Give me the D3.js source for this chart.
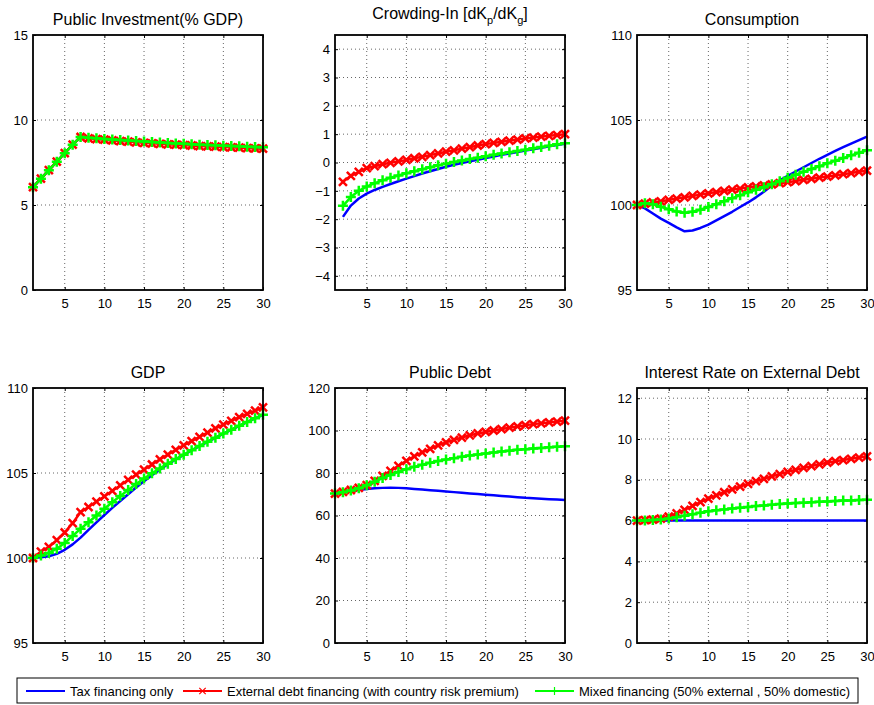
<!DOCTYPE html>
<html lang="en">
<head>
<meta charset="UTF-8">
<title>Public investment financing scenarios</title>
<script src="https://d3js.org/d3.v7.min.js"></script>
<style>
    body { margin: 0; background: #fff; }
    svg { display: block; font-family: 'Liberation Sans', Arial, sans-serif; }
    .tick-label { font-size: 13px; fill: #000; }
    .title { font-size: 16px; fill: #000; }
    .legend-text { font-size: 13px; fill: #000; }
</style>
</head>
<body>
<svg id="chart" width="874" height="705"></svg>
<script>
    // periods on the horizontal axis
    const periods = [1, 2, 3, 4, 5, 6, 7, 8, 9, 10, 11, 12, 13, 14, 15, 16, 17, 18, 19, 20, 21, 22, 23, 24, 25, 26, 27, 28, 29, 30];
    const xTicks = [5, 10, 15, 20, 25, 30];
    const seriesNames = ["Tax financing only", "External debt financing (with country risk premium)", "Mixed financing (50% external , 50% domestic)"];

    // Public investment (% GDP)
    const invTax = [6.05, 6.55, 7.05, 7.55, 8.05, 8.55, 9.0, 8.95, 8.92, 8.88, 8.85, 8.82, 8.79, 8.76, 8.73, 8.70, 8.67, 8.65, 8.62, 8.60, 8.57, 8.55, 8.53, 8.51, 8.49, 8.47, 8.45, 8.43, 8.41, 8.39];
    const invExt = [6.05, 6.55, 7.05, 7.55, 8.05, 8.55, 9.0, 8.92, 8.88, 8.84, 8.80, 8.76, 8.73, 8.69, 8.66, 8.63, 8.60, 8.57, 8.55, 8.52, 8.50, 8.47, 8.45, 8.43, 8.41, 8.39, 8.37, 8.35, 8.33, 8.31];
    const invMix = [6.05, 6.55, 7.05, 7.55, 8.05, 8.55, 9.0, 8.95, 8.92, 8.88, 8.85, 8.82, 8.79, 8.76, 8.73, 8.70, 8.67, 8.65, 8.62, 8.60, 8.57, 8.55, 8.53, 8.51, 8.49, 8.47, 8.45, 8.43, 8.41, 8.39];

    // Crowding-in dKp/dKg (from period 2)
    const crowdTax = [-1.92, -1.52, -1.27, -1.10, -0.97, -0.86, -0.76, -0.66, -0.57, -0.48, -0.39, -0.31, -0.23, -0.15, -0.08, -0.02, 0.04, 0.10, 0.16, 0.21, 0.27, 0.32, 0.37, 0.42, 0.47, 0.52, 0.57, 0.62, 0.66];
    const crowdExt = [-0.68, -0.47, -0.33, -0.20, -0.13, -0.06, -0.01, 0.04, 0.09, 0.15, 0.20, 0.26, 0.32, 0.38, 0.43, 0.49, 0.54, 0.60, 0.65, 0.69, 0.73, 0.77, 0.81, 0.85, 0.88, 0.91, 0.94, 0.97, 1.00];
    const crowdMix = [-1.53, -1.22, -1.00, -0.85, -0.73, -0.63, -0.54, -0.46, -0.38, -0.31, -0.24, -0.17, -0.10, -0.04, 0.02, 0.07, 0.12, 0.17, 0.22, 0.27, 0.32, 0.36, 0.41, 0.45, 0.50, 0.55, 0.59, 0.64, 0.68];

    // Consumption
    const consTax = [100, 99.8, 99.5, 99.2, 98.95, 98.68, 98.45, 98.5, 98.65, 98.85, 99.1, 99.35, 99.6, 99.88, 100.15, 100.45, 100.78, 101.15, 101.45, 101.72, 101.97, 102.22, 102.47, 102.72, 102.95, 103.18, 103.4, 103.61, 103.82, 104.02];
    const consExt = [100, 100.08, 100.15, 100.22, 100.3, 100.38, 100.45, 100.53, 100.61, 100.69, 100.76, 100.83, 100.9, 100.97, 101.04, 101.1, 101.16, 101.22, 101.28, 101.34, 101.41, 101.48, 101.54, 101.61, 101.67, 101.74, 101.81, 101.88, 101.95, 102.02];
    const consMix = [100, 100.1, 100.05, 99.9, 99.75, 99.62, 99.55, 99.6, 99.72, 99.88, 100.05, 100.22, 100.4, 100.57, 100.75, 100.9, 101.05, 101.22, 101.4, 101.6, 101.78, 101.95, 102.12, 102.28, 102.45, 102.6, 102.76, 102.92, 103.07, 103.22];

    // GDP
    const gdpTax = [100, 100.04, 100.1, 100.24, 100.48, 100.8, 101.2, 101.65, 102.1, 102.53, 102.95, 103.35, 103.75, 104.15, 104.52, 104.87, 105.2, 105.51, 105.8, 106.06, 106.33, 106.58, 106.83, 107.07, 107.31, 107.54, 107.77, 107.99, 108.21, 108.42];
    const gdpExt = [100, 100.38, 100.65, 101.05, 101.5, 102.05, 102.7, 103.0, 103.32, 103.62, 103.95, 104.27, 104.6, 104.9, 105.2, 105.5, 105.8, 106.08, 106.36, 106.63, 106.88, 107.13, 107.38, 107.62, 107.85, 108.07, 108.28, 108.48, 108.67, 108.86];
    const gdpMix = [100, 100.14, 100.3, 100.55, 100.88, 101.3, 101.72, 102.1, 102.5, 102.9, 103.28, 103.65, 104.0, 104.35, 104.68, 104.98, 105.27, 105.55, 105.82, 106.08, 106.34, 106.59, 106.84, 107.08, 107.32, 107.55, 107.78, 108.0, 108.22, 108.43];

    // Public debt
    const debtTax = [70.3, 70.9, 71.5, 72.0, 72.5, 72.8, 73.0, 73.1, 73.0, 72.8, 72.5, 72.2, 71.9, 71.6, 71.3, 71.0, 70.7, 70.4, 70.1, 69.8, 69.5, 69.2, 68.9, 68.6, 68.3, 68.1, 67.9, 67.7, 67.5, 67.3];
    const debtExt = [70.3, 71.1, 72.0, 73.0, 74.3, 76.3, 78.6, 81.0, 83.4, 85.7, 87.8, 89.7, 91.4, 93.0, 94.4, 95.6, 96.7, 97.7, 98.6, 99.3, 100.0, 100.7, 101.3, 101.9, 102.5, 103.0, 103.4, 103.8, 104.2, 104.6];
    const debtMix = [70.3, 71.0, 71.8, 72.8, 74.2, 75.9, 77.6, 79.1, 80.5, 81.8, 82.9, 83.9, 84.8, 85.6, 86.3, 87.0, 87.6, 88.2, 88.7, 89.2, 89.7, 90.1, 90.5, 90.9, 91.2, 91.5, 91.8, 92.1, 92.4, 92.6];

    // Interest rate on external debt
    const rateTax = [6, 6, 6, 6, 6, 6, 6, 6, 6, 6, 6, 6, 6, 6, 6, 6, 6, 6, 6, 6, 6, 6, 6, 6, 6, 6, 6, 6, 6, 6];
    const rateExt = [6.0, 6.02, 6.05, 6.1, 6.2, 6.35, 6.53, 6.72, 6.9, 7.08, 7.24, 7.39, 7.53, 7.67, 7.8, 7.93, 8.05, 8.17, 8.28, 8.39, 8.49, 8.58, 8.67, 8.76, 8.84, 8.91, 8.97, 9.03, 9.09, 9.15];
    const rateMix = [6.0, 6.01, 6.03, 6.06, 6.1, 6.17, 6.24, 6.31, 6.39, 6.46, 6.51, 6.55, 6.59, 6.63, 6.67, 6.71, 6.74, 6.78, 6.81, 6.84, 6.86, 6.88, 6.9, 6.92, 6.94, 6.96, 6.98, 6.99, 7.01, 7.02];

    const colors = ["#0000ff", "#ff0000", "#00ff00"];
    const markers = [null, "M-4,-4L4,4M-4,4L4,-4", "M-5,0H5M0,-5V5"];

    const panels = [
        { title: "Public Investment(% GDP)", x: 33, y: 35, yDomain: [0, 15], yTicks: [0, 5, 10, 15], xs: periods, series: [invTax, invExt, invMix] },
        { title: "crowd", x: 335, y: 35, yDomain: [-4.5, 4.5], yTicks: [-4, -3, -2, -1, 0, 1, 2, 3, 4], xs: periods.slice(1), series: [crowdTax, crowdExt, crowdMix] },
        { title: "Consumption", x: 637, y: 35, yDomain: [95, 110], yTicks: [95, 100, 105, 110], xs: periods, series: [consTax, consExt, consMix] },
        { title: "GDP", x: 33, y: 388, yDomain: [95, 110], yTicks: [95, 100, 105, 110], xs: periods, series: [gdpTax, gdpExt, gdpMix] },
        { title: "Public Debt", x: 335, y: 388, yDomain: [0, 120], yTicks: [0, 20, 40, 60, 80, 100, 120], xs: periods, series: [debtTax, debtExt, debtMix] },
        { title: "Interest Rate on External Debt", x: 637, y: 388, yDomain: [0, 12.5], yTicks: [0, 2, 4, 6, 8, 10, 12], xs: periods, series: [rateTax, rateExt, rateMix] }
    ];

    const width = 230, height = 255;
    const svg = d3.select("#chart");

    panels.forEach(p => {
        const g = svg.append("g").attr("transform", `translate(${p.x},${p.y})`);
        const x = d3.scaleLinear().domain([1, 30]).range([0, width]);
        const y = d3.scaleLinear().domain(p.yDomain).range([height, 0]);

        // dotted grid
        g.append("g")
            .selectAll("line")
            .data(xTicks.filter(t => t < 30))
            .join("line")
            .attr("x1", d => x(d)).attr("x2", d => x(d))
            .attr("y1", 0).attr("y2", height)
            .attr("stroke", "#666").attr("stroke-dasharray", "1,3");
        g.append("g")
            .selectAll("line")
            .data(p.yTicks.filter(t => y(t) > 1 && y(t) < height - 1))
            .join("line")
            .attr("x1", 0).attr("x2", width)
            .attr("y1", d => y(d)).attr("y2", d => y(d))
            .attr("stroke", "#666").attr("stroke-dasharray", "1,3");

        // axes, ticks pointing inwards
        const xAxis = g.append("g")
            .attr("transform", `translate(0,${height})`)
            .call(d3.axisBottom(x).tickValues(xTicks).tickSize(-3).tickPadding(6).tickSizeOuter(0));
        g.append("g")
            .call(d3.axisLeft(y).tickValues(p.yTicks).tickSize(-3).tickPadding(5).tickSizeOuter(0));
        g.append("g")
            .call(d3.axisTop(x).tickValues(xTicks).tickSize(-3).tickFormat("").tickSizeOuter(0));
        g.append("g")
            .attr("transform", `translate(${width},0)`)
            .call(d3.axisRight(y).tickValues(p.yTicks).tickSize(-3).tickFormat("").tickSizeOuter(0));
        g.selectAll(".domain").remove();
        g.selectAll(".tick line").attr("stroke", "#000");
        g.selectAll(".tick text").attr("class", "tick-label").attr("font-family", null).attr("font-size", null);
        xAxis.selectAll(".tick text").attr("dy", "0.95em");

        // series: blue, red, green
        p.series.forEach((vals, i) => {
            const pts = p.xs.map((t, k) => [t, vals[k]]);
            g.append("path")
                .datum(pts)
                .attr("fill", "none")
                .attr("stroke", colors[i])
                .attr("stroke-width", 2.5)
                .attr("stroke-linejoin", "round")
                .attr("d", d3.line().x(d => x(d[0])).y(d => y(d[1])));
            if (markers[i]) {
                g.append("g")
                    .selectAll("path")
                    .data(pts)
                    .join("path")
                    .attr("transform", d => `translate(${x(d[0])},${y(d[1])})`)
                    .attr("d", markers[i])
                    .attr("fill", "none")
                    .attr("stroke", colors[i])
                    .attr("stroke-width", 2.5);
            }
        });

        // box
        g.append("rect")
            .attr("width", width).attr("height", height)
            .attr("fill", "none").attr("stroke", "#000").attr("stroke-width", 1.8);

        // title
        const title = g.append("text")
            .attr("class", "title")
            .attr("x", width / 2)
            .attr("text-anchor", "middle");
        if (p.title === "crowd") {
            title.attr("y", -16);
            title.append("tspan").text("Crowding-In [dK");
            title.append("tspan").attr("dy", 5).attr("font-size", 11).text("p");
            title.append("tspan").attr("dy", -5).text("/dK");
            title.append("tspan").attr("dy", 5).attr("font-size", 11).text("g");
            title.append("tspan").attr("dy", -5).text("]");
        } else {
            title.attr("y", -10).text(p.title);
        }
    });

    // legend
    const legend = svg.append("g");
    legend.append("rect")
        .attr("x", 17).attr("y", 678).attr("width", 841).attr("height", 25)
        .attr("fill", "#fff").attr("stroke", "#000").attr("stroke-width", 1);
    const legendX = [26, 183, 535];
    seriesNames.forEach((name, i) => {
        const lg = legend.append("g").attr("transform", `translate(${legendX[i]},691)`);
        lg.append("line").attr("x1", 0).attr("x2", 39)
            .attr("stroke", colors[i]).attr("stroke-width", 2);
        if (markers[i]) {
            lg.append("path").attr("transform", "translate(19.5,0) scale(0.8)")
                .attr("d", markers[i]).attr("fill", "none")
                .attr("stroke", colors[i]).attr("stroke-width", 1.5);
        }
        lg.append("text").attr("class", "legend-text")
            .attr("x", 44).attr("dy", "0.35em").text(name);
    });
</script>
</body>
</html>
